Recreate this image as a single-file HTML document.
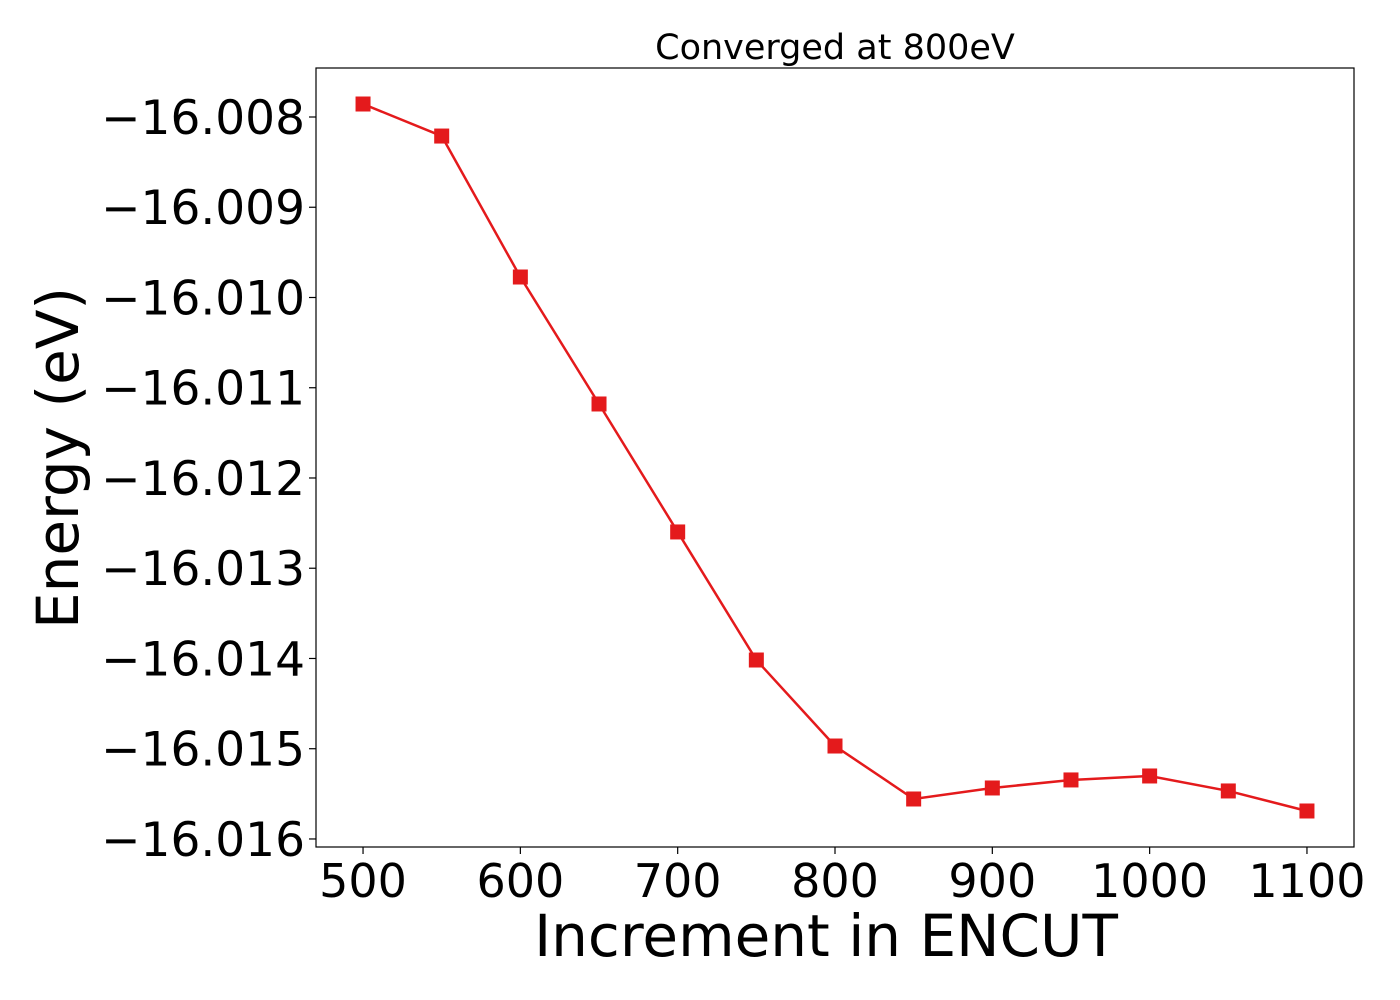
<!DOCTYPE html>
<html><head><meta charset="utf-8"><style>body{margin:0;background:#fff}svg{display:block}</style></head>
<body>
<svg id="chart" width="1400" height="1000" font-family="'DejaVu Sans', 'Liberation Sans', sans-serif">
<text x="835" y="59" text-anchor="middle" font-size="35">Converged at 800eV</text>
<text transform="translate(78,458) rotate(-90)" text-anchor="middle" font-size="58">Energy (eV)</text>
<text x="826" y="956" text-anchor="middle" font-size="58">Increment in ENCUT</text>
<g id="axes"></g>
<g id="series"></g>
<rect x="316" y="68" width="1038" height="779" fill="none" stroke="#000" stroke-width="1.2"/>
</svg>
<script>
const encut = [500,550,600,650,700,750,800,850,900,950,1000,1050,1100];
const energy = [-16.007856,-16.008211,-16.009773,-16.011180,-16.012598,-16.014017,-16.014970,-16.015557,-16.015435,-16.015346,-16.015302,-16.015468,-16.015690];
const xTicks = [500,600,700,800,900,1000,1100];
const yTicks = [-16.008,-16.009,-16.010,-16.011,-16.012,-16.013,-16.014,-16.015,-16.016];
const yTickLabels = ["\u221216.008","\u221216.009","\u221216.010","\u221216.011","\u221216.012","\u221216.013","\u221216.014","\u221216.015","\u221216.016"];
const X0=316,X1=1354,Y0=68,Y1=847;
const xMin=470.1,xMax=1129.9,yMin=-16.016089,yMax=-16.007457;
const sx=v=>X0+(v-xMin)/(xMax-xMin)*(X1-X0);
const sy=v=>Y1-(v-yMin)/(yMax-yMin)*(Y1-Y0);
const NS="http://www.w3.org/2000/svg";
const axes=document.getElementById('axes'), ser=document.getElementById('series');
function mk(tag,attrs,parent){const e=document.createElementNS(NS,tag);for(const k in attrs)e.setAttribute(k,attrs[k]);parent.appendChild(e);return e;}
xTicks.forEach(t=>{
  const l=mk('line',{x1:sx(t),x2:sx(t),y1:Y1,y2:Y1+7,stroke:'#000','stroke-width':1.2},axes);
  
  
  const tx=mk('text',{x:sx(t),y:Y1+50,'text-anchor':'middle','font-size':46},axes);
  tx.textContent=t;
  
  
});
yTicks.forEach((t,i)=>{
  const l=mk('line',{x1:X0-7,x2:X0,y1:sy(t),y2:sy(t),stroke:'#000','stroke-width':1.2},axes);
  
  
  const tx=mk('text',{x:X0-11,y:sy(t)+17,'text-anchor':'end','font-size':47},axes);
  tx.textContent=yTickLabels[i];
  
  
});
const pl=mk('polyline',{points:encut.map((x,i)=>sx(x)+','+sy(energy[i])).join(' '),fill:'none',stroke:'#e41a1c','stroke-width':2.5},ser);


encut.forEach((x,i)=>{
  const r=mk('rect',{x:sx(x)-7.5,y:sy(energy[i])-7.5,width:15,height:15,fill:'#e41a1c'},ser);
  
  
});
</script>
</body></html>
